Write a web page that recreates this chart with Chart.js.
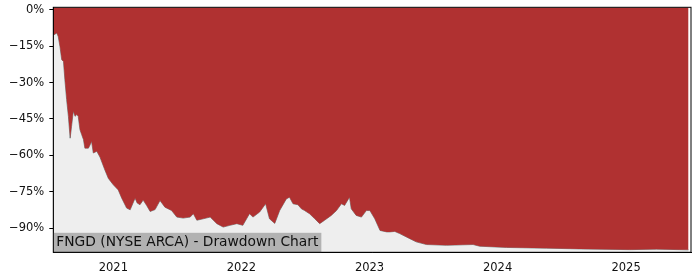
<!DOCTYPE html>
<html>
<head>
<meta charset="utf-8">
<script src="https://cdn.jsdelivr.net/npm/chart.js@4"></script>
<style>
  html, body { margin: 0; padding: 0; background: #fff; }
  #wrap { width: 700px; height: 280px; }
</style>
</head>
<body>
<div id="wrap"><canvas id="chart"></canvas></div>
<script>
const dates = [
  '2020-07-14', '2020-07-16', '2020-07-24', '2020-07-28', '2020-08-02', '2020-08-07',
  '2020-08-12', '2020-08-16', '2020-08-21', '2020-08-26', '2020-08-31', '2020-09-04',
  '2020-09-09', '2020-09-14', '2020-09-19', '2020-09-23', '2020-09-28', '2020-10-03',
  '2020-10-08', '2020-10-12', '2020-10-22', '2020-10-27', '2020-10-31', '2020-11-05',
  '2020-11-15', '2020-11-24', '2020-12-08', '2020-12-18', '2021-01-01', '2021-01-15',
  '2021-01-25', '2021-02-08', '2021-02-18', '2021-03-04', '2021-03-10', '2021-03-18',
  '2021-03-27', '2021-04-06', '2021-04-16', '2021-04-30', '2021-05-14', '2021-05-28',
  '2021-06-16', '2021-07-01', '2021-07-19', '2021-08-08', '2021-08-17', '2021-08-27',
  '2021-09-14', '2021-10-04', '2021-10-23', '2021-11-10', '2021-11-29', '2021-12-19',
  '2022-01-05', '2022-01-24', '2022-02-03', '2022-02-22', '2022-03-11', '2022-03-22',
  '2022-04-06', '2022-04-20', '2022-05-09', '2022-05-18', '2022-05-28', '2022-06-11',
  '2022-06-21', '2022-06-30', '2022-07-14', '2022-07-29', '2022-08-12', '2022-08-26',
  '2022-09-14', '2022-09-29', '2022-10-13', '2022-10-22', '2022-11-05', '2022-11-10',
  '2022-11-24', '2022-12-09', '2022-12-23', '2023-01-02', '2023-01-16', '2023-01-31',
  '2023-02-19', '2023-02-28', '2023-03-14', '2023-03-28', '2023-04-26', '2023-05-14',
  '2023-06-12', '2023-08-08', '2023-10-23', '2023-11-11', '2024-01-26', '2024-05-19',
  '2024-08-22', '2025-01-11', '2025-03-28', '2025-06-03', '2025-06-28'
];
const drawdown = [
  -10.3, -10.3, -9.6, -11.0, -15.1, -20.6,
  -21.3, -28.8, -37.0, -43.9, -52.9, -48.0,
  -41.8, -43.9, -43.2, -43.9, -49.4, -51.5,
  -53.5, -57.0, -57.0, -55.6, -54.2, -59.0,
  -58.3, -60.7, -66.0, -69.5, -72.1, -74.2,
  -77.6, -81.7, -82.4, -77.6, -79.6, -80.3,
  -78.4, -80.6, -83.1, -82.3, -78.6, -81.3,
  -82.7, -85.4, -85.8, -85.4, -84.0, -86.7,
  -86.1, -85.4, -88.1, -89.5, -88.8, -88.1,
  -88.8, -84.0, -85.4, -83.3, -79.9, -86.1,
  -88.0, -82.7, -77.9, -77.2, -79.9, -80.3,
  -82.0, -82.7, -84.0, -86.1, -88.1, -86.7,
  -84.7, -82.7, -79.9, -80.6, -77.2, -82.0,
  -84.7, -85.4, -82.7, -82.7, -86.1, -90.9,
  -91.5, -91.5, -91.3, -92.2, -94.3, -95.6,
  -96.7, -97.0, -96.7, -97.4, -97.9, -98.2,
  -98.5, -98.8, -98.6, -98.8, -98.9
];
const yTicks = [0, -15, -30, -45, -60, -75, -90];
const xTickDates = ['2021-01-01', '2022-01-01', '2023-01-01', '2024-01-01', '2025-01-01'];
const xTickLabels = ['2021', '2022', '2023', '2024', '2025'];
const title = 'FNGD (NYSE ARCA) - Drawdown Chart';

const points = dates.map((d, i) => ({ x: Date.parse(d), y: drawdown[i] }));
const FONT = 'DejaVu Sans';

// black box round the plot + label with grey background in the corner
const framePlugin = {
  id: 'frame',
  afterDraw(chart) {
    const { ctx, chartArea: a } = chart;
    ctx.save();
    ctx.font = '13.8px "' + FONT + '"';
    const w = ctx.measureText(title).width;
    ctx.fillStyle = '#b2b2b2';
    ctx.fillRect(a.left, a.bottom - 19.5, w + 6, 19.5);
    ctx.fillStyle = '#111';
    ctx.textBaseline = 'middle';
    ctx.fillText(title, a.left + 3, a.bottom - 9.5);
    ctx.strokeStyle = '#000';
    ctx.lineWidth = 1;
    ctx.strokeRect(a.left, a.top, a.right - a.left, a.bottom - a.top);
    ctx.restore();
  }
};

const ctx = document.getElementById('chart').getContext('2d');
new Chart(ctx, {
  type: 'line',
  data: {
    datasets: [
      {
        data: points,
        fill: 'end',
        backgroundColor: '#b03131',
        borderWidth: 0,
        pointRadius: 0
      },
      {
        data: points,
        fill: 'start',
        backgroundColor: '#eeeeee',
        borderColor: 'rgba(95,105,105,0.75)',
        borderWidth: 1,
        pointRadius: 0
      }
    ]
  },
  options: {
    responsive: true,
    maintainAspectRatio: false,
    animation: false,
    layout: { padding: { top: 7.3, right: 9, left: 0, bottom: 0 } },
    plugins: { legend: { display: false }, tooltip: { enabled: false } },
    scales: {
      x: {
        type: 'linear',
        min: Date.parse('2020-07-14'),
        max: Date.parse('2025-07-05'),
        afterBuildTicks: (s) => { s.ticks = xTickDates.map(d => ({ value: Date.parse(d) })); },
        afterFit: (s) => { s.height = 27.7; s.paddingLeft = 0; s.paddingRight = 0; },
        grid: { display: false, drawOnChartArea: false, drawTicks: true, tickLength: 4, tickColor: '#000' },
        border: { display: true, color: '#000' },
        ticks: {
          color: '#111',
          font: { family: FONT, size: 11.5 },
          padding: 5,
          maxRotation: 0,
          callback: (v, i) => xTickLabels[i]
        }
      },
      y: {
        min: -99.9,
        max: 1,
        afterBuildTicks: (s) => { s.ticks = yTicks.map(v => ({ value: v })); },
        afterFit: (s) => { s.width = 53.3; s.paddingTop = 0; s.paddingBottom = 0; },
        grid: { drawOnChartArea: false, drawTicks: true, tickLength: 4, tickColor: '#000' },
        border: { display: true, color: '#000' },
        ticks: {
          color: '#111',
          font: { family: FONT, size: 11.5 },
          padding: 5,
          callback: (v) => (v < 0 ? '\u2212' + Math.abs(v) : v) + '%'
        }
      }
    }
  },
  plugins: [framePlugin]
});
</script>
</body>
</html>
